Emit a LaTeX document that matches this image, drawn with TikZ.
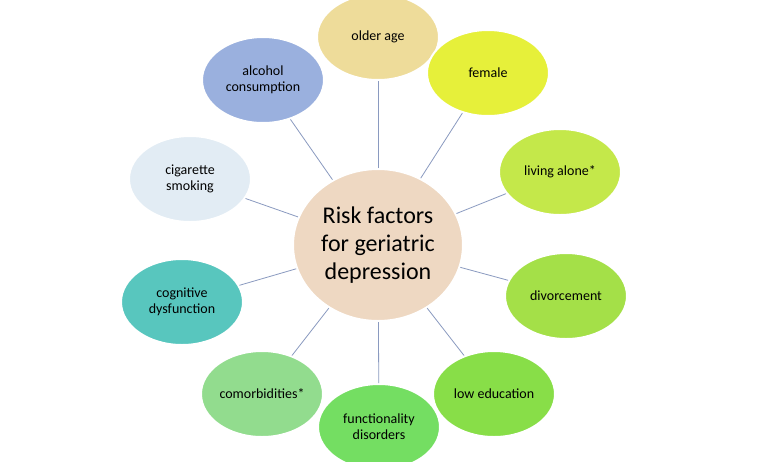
\documentclass[tikz,border=0pt]{standalone}
\usepackage{fontspec}
\setmainfont{Carlito}
\usetikzlibrary{shapes.geometric}
\definecolor{c1}{HTML}{EEDC9A}
\definecolor{c2}{HTML}{E6F03A}
\definecolor{c3}{HTML}{C4E84A}
\definecolor{c4}{HTML}{A4E048}
\definecolor{c5}{HTML}{88DE48}
\definecolor{c6}{HTML}{74DE62}
\definecolor{c7}{HTML}{92DC8E}
\definecolor{c8}{HTML}{58C6BE}
\definecolor{c9}{HTML}{E2ECF4}
\definecolor{c10}{HTML}{9AB0DE}
\definecolor{cc}{HTML}{EED8C2}
\definecolor{ln}{HTML}{8A9AC0}
\begin{document}
\begin{tikzpicture}[x=1pt,y=-1pt,
 outer/.style={ellipse,draw=white,line width=2pt,minimum width=122pt,minimum height=86pt,align=center,font=\fontsize{14}{16}\selectfont,inner sep=0pt},
 conn/.style={draw=ln,line width=0.8pt}]
\useasboundingbox[fill=white] (0,0) rectangle (768,461);
\node[ellipse,minimum width=170pt,minimum height=152pt,fill=cc,draw=white,line width=2pt,align=center,font=\fontsize{24}{28}\selectfont] (c) at (378,245) {Risk factors\\for geriatric\\depression};
\node[outer,fill=c1] (a1) at (378,37) {older age};
\node[outer,fill=c2] (a2) at (488,73) {female};
\node[outer,fill=c3] (a3) at (560,172) {living alone*};
\node[outer,fill=c4] (a4) at (566,296) {divorcement};
\node[outer,fill=c5] (a5) at (494,394) {low education};
\node[outer,fill=c6] (a6) at (379,427) {functionality\\disorders};
\node[outer,fill=c7] (a7) at (262,394) {comorbidities*};
\node[outer,fill=c8] (a8) at (182,302) {cognitive\\dysfunction};
\node[outer,fill=c9] (a9) at (190,179) {cigarette\\smoking};
\node[outer,fill=c10] (a10) at (263,80) {alcohol\\consumption};
\foreach \n in {a1,a2,a3,a4,a5,a6,a7,a8,a9,a10} \draw[conn] (c) -- (\n);
\end{tikzpicture}
\end{document}
